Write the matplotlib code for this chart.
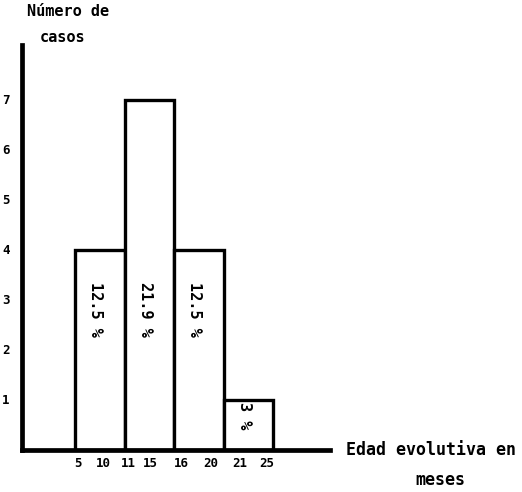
import matplotlib.pyplot as plt

# data
groups = ["5-10", "11-15", "16-20", "21-25"]
casos = [4, 7, 4, 1]
porcentajes = ["12.5 %", "21.9 %", "12.5 %", "3 %"]
lim_inf = ["5", "11", "16", "21"]
lim_sup = ["10", "15", "20", "25"]
yticks = [1, 2, 3, 4, 5, 6, 7]

plt.rcParams['font.family'] = ['DejaVu Sans Mono', 'DejaVu Sans']
plt.rcParams['font.weight'] = 'bold'

fig = plt.figure(figsize=(5.22, 4.92), dpi=100)
ax = fig.add_axes([22 / 522, 42 / 492, 308 / 522, 405 / 492])

pos = list(range(len(groups)))
ax.bar(pos, casos, width=1.0, align='edge', color='white', edgecolor='black', linewidth=2.4)

ax.set_xlim(-1.07, 5.15)
ax.set_ylim(0, 8.1)
ax.spines['top'].set_visible(False)
ax.spines['right'].set_visible(False)
ax.spines['left'].set_linewidth(3.4)
ax.spines['bottom'].set_linewidth(3.4)
ax.set_xticks([])
ax.set_yticks([])

# y tick labels
for v in yticks:
    ax.text(-1.4, v, str(v), ha='center', va='center', fontsize=9, fontweight='bold')

# x tick labels (class limits)
offs_lo = [0.05, 0.08, 0.14, 0.32]
offs_hi = [0.57, 0.52, 0.75, 0.87]
for i in pos:
    ax.text(i + offs_lo[i], -0.27, lim_inf[i], ha='center', va='center', fontsize=9, fontweight='bold')
    ax.text(i + offs_hi[i], -0.27, lim_sup[i], ha='center', va='center', fontsize=9, fontweight='bold')

# percentages inside bars
for i, (c, p) in enumerate(zip(casos, porcentajes)):
    top = 3.35 if c > 1 else 0.95
    ax.text(i + 0.42, top, p, rotation=270, ha='center', va='top', fontsize=11, fontweight='bold')

# axis titles
fig.text(27 / 522, 1 - 12 / 492, "Número de", ha='left', va='center', fontsize=11, fontweight='bold')
fig.text(63 / 522, 1 - 37 / 492, "casos", ha='center', va='center', fontsize=11, fontweight='bold')
fig.text(431 / 522, 1 - 450 / 492, "Edad evolutiva en", ha='center', va='center', fontsize=12, fontweight='bold')
fig.text(440 / 522, 1 - 480 / 492, "meses", ha='center', va='center', fontsize=12, fontweight='bold')

fig.savefig("out.png", dpi=100)
